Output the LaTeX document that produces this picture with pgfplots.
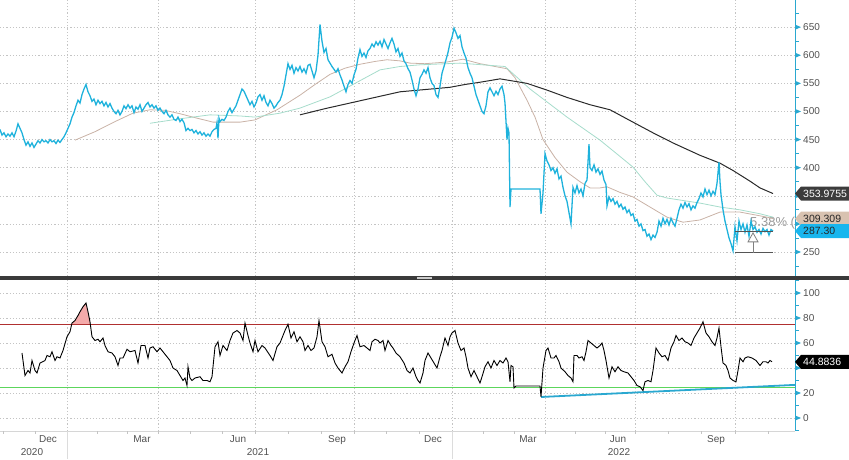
\documentclass[border=0pt]{standalone}
\usepackage{pgfplots}
\pgfplotsset{compat=1.18}
\usepackage{fontspec}
\setmainfont{Liberation Sans}
\definecolor{axc}{HTML}{2AA8D0}
\definecolor{pricec}{HTML}{1EB2DC}
\definecolor{tanc}{HTML}{C9B2A6}
\definecolor{grnc}{HTML}{A6DCCB}
\definecolor{ma200}{HTML}{2A2A2A}
\definecolor{gridc}{HTML}{C4C4C4}
\definecolor{labc}{HTML}{505050}
\definecolor{rsired}{HTML}{B03030}
\definecolor{rsigrn}{HTML}{5CD65C}
\definecolor{fillred}{HTML}{F4AAAA}
\definecolor{tagdark}{HTML}{3C3C3C}
\definecolor{tagtan}{HTML}{D8C2B0}
\definecolor{tagcyan}{HTML}{18B6EE}
\definecolor{sepc}{HTML}{3A3A3A}
\pgfplotsset{
  base/.style={
    scale only axis, width=795pt, xmin=0, xmax=795,
    axis x line*=bottom, axis y line*=right,
    tick align=outside,
    y axis line style={axc, line width=1pt},
    grid style={gridc, dash pattern=on 1.2pt off 2pt, line width=0.5pt},
    ymajorgrids, xmajorgrids,
    major tick length=0pt,
    minor tick length=4pt,
    minor tick style={axc, line width=0.8pt},
    yticklabel style={font=\fontsize{10}{12}\selectfont, text=labc, anchor=west, inner sep=0pt, xshift=8pt},
    xticklabel style={font=\fontsize{10}{12}\selectfont, text=labc, anchor=north, inner sep=0pt, yshift=-4pt},
    /pgf/number format/assume math mode=true,
    clip=false,
  }
}
\newcommand{\pricetag}[4]{%
  \fill[#2] (#1) -- ++(6pt,7pt) -- ++(54pt,0pt) -- ++(0pt,-14pt) -- ++(-54pt,0pt) -- cycle;
  \node[anchor=west, text=#3, font=\fontsize{10.5}{12}\selectfont, inner sep=0pt] at ([xshift=8pt]#1) {#4};}
\begin{document}
\begin{tikzpicture}
\useasboundingbox (0pt,0pt) rectangle (849pt,459pt);
% ---------------- top panel: price ----------------
\begin{axis}[base, at={(0pt,183pt)}, anchor=south west, height=276pt,
  ymin=207.3, ymax=698.3,
  ytick={250,300,350,400,450,500,550,600,650},
  yticklabels={250,,,400,450,500,550,600,650},
  minor ytick={225,275,325,375,425,475,525,575,625,675},
  xtick={67,158,255,354,452,545,635,735}, xticklabels={},
  x axis line style={draw=none}]
\pgfplotsinvokeforeach{250,300,350,400,450,500,550,600,650}{
  \fill[axc] (axis cs:795,#1) ++(0pt,-2.6pt) -- ++(6pt,2.6pt) -- ++(-6pt,2.6pt) -- cycle;}
\node[anchor=west, text=gray!80, font=\fontsize{13}{15}\selectfont, inner sep=0pt] at (axis cs:750,301) {5.38\% (};
\addplot[tanc, line width=0.8pt] coordinates {(75,449) (95,464) (115,482) (133,497) (150,503) (165,502) (180,496) (195,489) (213,481) (240,481) (255,485) (277,503) (300,529) (315,548) (330,566) (345,577) (360,584) (375,589) (387,592) (400,590) (410,586) (425,585) (447,588) (463,593) (480,585) (495,580) (507,576) (515,560) (527,520) (535,490) (543,450) (555,418) (567,392) (580,375) (590,364) (600,364) (607,366) (620,356) (633,348) (650,330) (667,312) (683,303) (700,307) (710,314) (720,321) (740,321) (755,316) (767,312) (773,309.3)};
\addplot[grnc, line width=0.8pt] coordinates {(150,479) (180,487) (210,494) (240,492) (255,490) (280,497) (300,506) (330,526) (355,550) (380,574) (400,580) (420,583) (460,586) (505,580) (530,540) (567,490) (600,449) (620,420) (633,401) (645,375) (657,351) (667,346) (700,337) (720,330) (740,325) (760,318) (773,312)};
\addplot[ma200, line width=1pt] coordinates {(300,494) (325,505) (350,515) (375,525) (400,535) (425,539) (450,543) (465,548) (480,552) (500,558) (527,550) (547,538) (567,525) (590,512) (610,503) (633,481) (653,462) (673,444) (700,422) (720,408) (733,395) (750,376) (760,364) (773,354)};
\addplot[pricec, line width=1.3pt] table {
0 468
2 458
4 462
6 455
8 460
10 456
12 462
14 455
16 465
18 478
20 470
22 462
24 450
26 440
28 446
30 438
32 444
34 436
36 442
38 448
40 444
42 450
44 446
46 448
48 444
50 450
52 446
54 448
56 443
58 449
60 445
62 450
64 455
66 462
68 470
70 478
72 490
74 498
76 510
78 520
80 515
82 530
84 540
86 548
88 535
90 528
92 518
94 522
96 512
98 520
100 514
102 518
104 510
106 516
108 508
110 514
112 506
114 500
116 496
118 502
120 494
122 500
124 510
126 505
128 512
130 506
132 510
134 498
136 508
138 504
140 512
142 500
144 506
146 512
148 516
150 508
152 512
154 506
156 510
158 502
160 506
162 500
164 496
166 502
168 494
170 490
172 494
174 486
176 484
178 490
180 482
182 486
184 480
186 466
188 470
190 466
192 468
194 462
196 466
198 460
200 464
202 458
204 462
206 456
208 460
210 456
212 464
214 468
216 470
217 480
218 452
219 488
220 482
222 486
224 484
226 490
228 500
230 506
232 498
234 504
236 510
238 520
240 530
242 540
244 536
246 528
248 520
250 512
252 518
254 508
256 515
258 526
260 530
262 520
264 528
266 516
268 510
270 520
272 514
274 506
276 510
278 516
280 520
282 530
284 545
286 565
288 585
290 575
292 582
294 568
296 578
298 572
300 580
302 570
304 576
306 568
308 582
310 584
312 572
314 560
316 572
318 600
320 655
322 625
324 605
326 612
328 592
330 586
332 580
334 575
336 570
338 576
340 565
342 556
344 545
346 535
348 548
350 555
352 550
354 565
356 575
358 595
360 610
362 598
364 604
366 596
368 608
370 612
372 620
374 615
376 624
378 618
380 625
382 615
384 628
386 620
388 612
390 622
392 630
394 620
396 606
398 612
400 598
402 604
404 590
406 585
408 576
410 570
412 556
414 540
416 528
418 540
420 560
422 566
424 574
426 568
428 578
430 560
432 550
434 546
436 530
438 525
440 545
442 568
444 580
446 592
448 605
450 622
452 632
454 648
456 640
458 630
460 635
462 615
464 604
466 595
468 578
470 568
472 560
474 545
476 530
478 520
480 510
482 500
484 496
486 510
488 535
490 542
492 535
494 528
496 536
498 530
500 540
502 545
504 530
505 515
507 450
508 470
509 462
510 330
511 362
540 362
541 318
543 355
545 425
547 412
549 405
551 395
553 400
555 390
557 398
559 380
561 385
563 365
565 350
567 340
569 320
571 300
573 365
575 355
577 368
579 355
581 362
583 350
585 372
587 378
589 442
590 400
592 395
594 405
596 392
598 398
600 388
602 394
604 378
606 370
607 332
609 348
611 340
613 345
615 335
617 340
619 330
621 335
623 326
625 330
627 320
629 325
631 315
633 318
635 305
637 308
639 296
641 300
643 288
645 290
647 278
649 282
651 272
653 280
655 276
657 285
659 305
661 296
663 310
665 300
667 308
669 298
671 310
673 302
675 296
677 310
679 325
681 335
683 328
685 338
687 330
689 336
691 325
693 332
695 328
697 338
699 345
701 355
703 348
705 362
707 352
709 360
711 350
713 358
715 352
717 372
719 410
720 375
721 352
723 325
725 305
727 290
729 275
731 265
733 252
735 295
737 270
739 305
741 290
743 300
745 285
747 298
749 278
751 305
753 290
755 295
757 285
759 290
761 282
763 292
765 286
767 290
769 280
771 290
773 287.3
};
% measuring tool
\draw[ma200!80, line width=0.7pt] (axis cs:735,249) -- (axis cs:773,249);
\draw[ma200!80, line width=0.7pt] (axis cs:735,287) -- (axis cs:773,287);
\draw[gray, line width=0.8pt] (axis cs:753,268) -- (axis cs:753,249);
\draw[gray, fill=white, line width=0.8pt] (axis cs:748,268) -- (axis cs:753,284) -- (axis cs:758,268) -- cycle;
\coordinate (tA) at (axis cs:795,353.9755);
\coordinate (tB) at (axis cs:795,309.309);
\coordinate (tC) at (axis cs:795,287.30);
\end{axis}
% separator bar
\fill[sepc] (0pt,179pt) rectangle (849pt,183pt);
\draw[gray!40, line width=0.6pt] (417pt,180.3pt) -- (432pt,180.3pt);
\draw[gray!40, line width=0.6pt] (417pt,181.8pt) -- (432pt,181.8pt);
% ---------------- bottom panel: RSI ----------------
\begin{axis}[base, at={(0pt,28pt)}, anchor=south west, height=151pt,
  ymin=-10.4, ymax=110.4,
  ytick={0,20,40,60,80,100},
  yticklabels={0,20,,60,80,100},
  minor ytick={-10,10,30,50,70,90,110},
  x axis line style={gridc!70, line width=0.6pt},
  xtick={48,142,238,337,433,528,618,716},
  xticklabels={Dec,Mar,Jun,Sep,Dec,Mar,Jun,Sep},
  xmajorgrids=false,
  extra x ticks={67,158,255,354,452,545,635,735},
  extra x tick labels={},
  extra x tick style={grid=major}]
\pgfplotsinvokeforeach{0,20,40,60,80,100}{
  \fill[axc] (axis cs:795,#1) ++(0pt,-2.6pt) -- ++(6pt,2.6pt) -- ++(-6pt,2.6pt) -- cycle;}
\pgfplotsinvokeforeach{3,35,67,97.3,127.7,158,190.3,222.7,255,288,321,354,386.7,419.3,452,483,514,545,575,605,635,668.3,701.7,735,768.3}{
  \draw[gridc, line width=0.5pt] (axis cs:#1,-10.4) -- ++(0pt,-3pt);}
\draw[gridc!60, line width=0.6pt] (axis cs:67,-10.4) -- ++(0pt,-28pt);
\draw[gridc!60, line width=0.6pt] (axis cs:452,-10.4) -- ++(0pt,-28pt);
\node[anchor=north, text=labc, font=\fontsize{10}{12}\selectfont, inner sep=0pt] at ([yshift=-17pt]axis cs:32,-10.4) {2020};
\node[anchor=north, text=labc, font=\fontsize{10}{12}\selectfont, inner sep=0pt] at ([yshift=-17pt]axis cs:258,-10.4) {2021};
\node[anchor=north, text=labc, font=\fontsize{10}{12}\selectfont, inner sep=0pt] at ([yshift=-17pt]axis cs:619,-10.4) {2022};
\addplot[fill=fillred, draw=none] coordinates {(71.5,75) (72,76) (75,78) (78,82) (80,85) (83,89) (86,92) (88,85) (90,77) (90.3,75)};
\addplot[rsired, line width=0.9pt] coordinates {(0,75.2) (795,75.2)};
\addplot[rsigrn, line width=0.9pt] coordinates {(0,24.8) (795,24.8)};
\addplot[axc, line width=1.8pt] coordinates {(541,16.8) (795,26.5)};
\addplot[black, line width=0.9pt] table {
22 52
25 34
28 38
30 36
32 46
35 38
37 36
40 44
45 46
47 50
50 49
52 53
55 46
57 49
60 48
63 54
67 65
70 69
72 76
75 78
78 82
80 85
83 89
86 92
88 85
90 77
92 65
95 62
98 63
100 61
103 64
105 58
108 53
112 52
115 49
118 42
120 48
123 48
127 55
130 53
135 54
138 44
141 58
145 58
148 48
150 56
153 57
157 53
160 56
163 53
167 49
170 46
173 40
177 38
180 34
183 30
185 32
187 26
188 41
190 32
192 30
195 32
200 33
203 30
207 30
210 29
212 33
215 57
218 61
220 50
223 58
227 54
230 62
233 68
237 70
240 68
243 62
245 76
248 66
250 60
253 53
255 62
258 53
262 58
265 56
270 50
273 46
277 57
280 60
283 66
285 70
288 75
291 64
294 69
297 61
300 65
303 61
305 54
308 58
311 54
314 56
317 65
319 78
322 61
325 57
328 49
332 51
335 44
338 40
342 36
345 41
348 45
351 53
354 60
357 66
360 57
364 58
367 56
370 54
372 61
375 63
378 62
380 60
383 62
385 54
388 62
391 58
393 56
396 52
400 49
404 44
407 38
410 36
413 40
416 33
418 30
420 28
423 36
425 46
428 52
431 48
434 44
437 40
440 49
442 54
445 64
448 58
450 65
452 68
455 70
458 60
461 54
464 56
466 49
468 40
471 33
474 38
477 33
480 28
482 33
485 41
488 45
491 40
494 46
497 42
500 46
503 44
506 48
508 45
510 29
511 42
513 41
514 24
516 25.6
540 25.6
541 17
543 40
546 54
548 56
551 48
554 48
556 50
559 45
561 40
565 37
568 34
571 32
573 29
574 50
577 50
579 48
582 49
584 46
586 53
588 62
591 60
594 58
597 56
600 58
602 60
604 54
606 46
609 32
612 41
615 37
618 41
621 38
624 37
628 36
631 33
634 30
637 26
640 25
643 22
645 29
648 30
651 29
653 38
656 56
659 52
662 49
665 50
668 46
671 56
674 61
676 66
679 62
682 64
685 61
688 60
691 58
694 64
697 68
700 72
703 77
706 68
709 65
712 61
715 58
717 64
719 72
721 57
723 44
726 42
728 38
730 32
733 30
736 29
738 38
740 48
743 45
745 48
748 49
752 48
756 46
760 42
763 45
766 45
768 44
770 46
772 45
};
\coordinate (tD) at (axis cs:795,44.8836);
\end{axis}
% value tags
\pricetag{tA}{tagdark}{white}{353.9755}
\pricetag{tB}{tagtan}{black!85}{309.309}
\pricetag{tC}{tagcyan}{black!85}{287.30}
\pricetag{tD}{black}{white}{44.8836}
\end{tikzpicture}
\end{document}
